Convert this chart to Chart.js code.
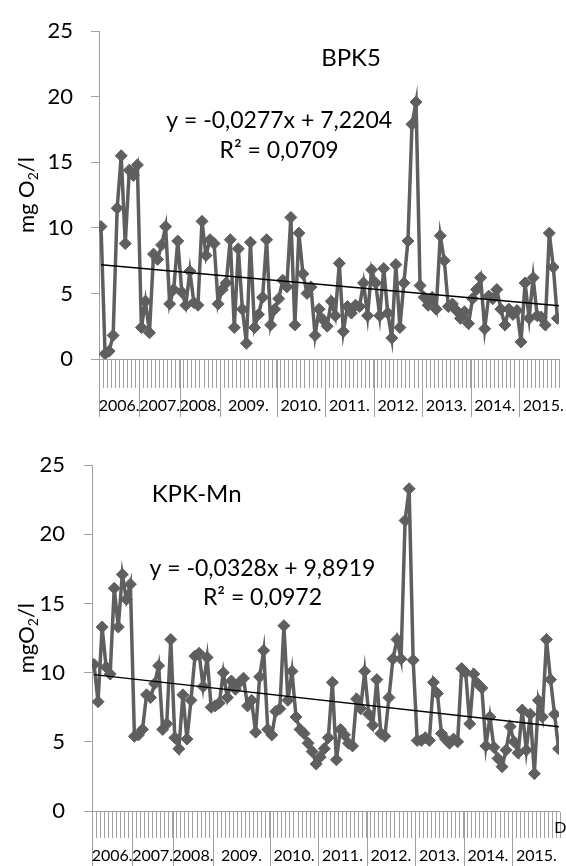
<!DOCTYPE html>
<html lang="en">
<head>
<meta charset="utf-8">
<style>
    html, body { margin: 0; padding: 0; background: #fff; overflow: hidden; }
    .box { position: absolute; left: 0; width: 566px; height: 433px; }
</style>
</head>
<body>
    <!-- Two stacked charts -->
    <div class="box" style="top: 0;"><canvas id="chartBpk" width="566" height="433"></canvas></div>
    <div class="box" style="top: 433px;"><canvas id="chartKpk" width="566" height="433"></canvas></div>

    <script src="https://cdn.jsdelivr.net/npm/chart.js@4"></script>
    <script>
        // Year groups on the x axis (number of samples per year)
        const years = ['2006.', '2007.', '2008.', '2009.', '2010.', '2011.', '2012.', '2013.', '2014.', '2015.'];
        const yearCounts = [10, 10, 10, 14, 12, 12, 12, 12, 12, 12];

        // BPK5 values (mg O2/l)
        const bpk5 = [
            10.1, 0.4, 0.6, 1.8, 11.5, 15.5, 8.8, 14.4, 14.0, 14.8,
            2.4, 4.4, 2.0, 8.0, 7.6, 8.7, 10.1, 4.2, 5.3, 9.0,
            5.1, 4.1, 6.7, 4.3, 4.1, 10.5, 7.9, 9.1, 8.8, 4.2,
            5.3, 5.8, 9.1, 2.4, 8.4, 3.8, 1.2, 8.9, 2.4, 3.4, 4.7, 9.1, 2.6, 3.8,
            4.6, 6.0, 5.5, 10.8, 2.6, 9.6, 6.5, 5.0, 5.5, 1.8, 3.8, 3.0,
            2.5, 4.4, 3.3, 7.3, 2.1, 4.0, 3.5, 4.1, 4.0, 5.8, 3.3, 6.8,
            5.8, 3.3, 6.9, 3.5, 1.6, 7.2, 2.4, 5.8, 9.0, 17.9, 19.6, 5.6,
            4.7, 4.1, 4.7, 3.8, 9.4, 7.5, 4.0, 4.2, 3.7, 3.1, 3.6, 2.7,
            4.6, 5.3, 6.2, 2.3, 4.8, 4.6, 5.3, 3.8, 2.6, 3.8, 3.4, 3.7,
            1.3, 5.8, 3.1, 6.2, 3.3, 3.2, 2.6, 9.6, 7.0, 3.1
        ];

        // KPK-Mn values (mg O2/l)
        const kpkMn = [
            10.6, 7.9, 13.3, 10.4, 9.9, 16.1, 13.3, 17.1, 15.3, 16.4,
            5.4, 5.5, 5.9, 8.4, 8.2, 9.2, 10.5, 5.9, 6.3, 12.4,
            5.3, 4.5, 8.4, 5.2, 8.0, 11.2, 11.4, 9.0, 11.1, 7.5,
            7.6, 7.8, 10.0, 8.2, 9.4, 8.8, 9.3, 9.6, 7.6, 8.0, 5.7, 9.7, 11.6, 5.9,
            5.5, 7.2, 7.4, 13.4, 8.0, 10.1, 6.8, 5.9, 5.6, 4.9, 4.3, 3.4,
            3.9, 4.5, 5.3, 9.3, 3.7, 5.9, 5.5, 4.9, 4.7, 8.1, 7.4, 10.1,
            7.0, 6.2, 9.5, 5.6, 5.4, 8.2, 11.0, 12.4, 11.0, 21.0, 23.3, 10.9,
            5.1, 5.1, 5.3, 5.1, 9.3, 8.5, 5.6, 5.2, 4.9, 5.2, 5.0, 10.3,
            10.0, 6.3, 9.9, 9.2, 8.9, 4.7, 6.8, 4.6, 3.8, 3.2, 4.4, 6.1,
            5.0, 4.2, 7.3, 4.4, 7.0, 2.7, 8.0, 6.8, 12.4, 9.5, 7.0, 4.5
        ];

        // Linear trend (slope, intercept) as printed on the chart
        const bpk5Trend = [-0.0277, 7.2204];
        const kpkTrend = [-0.0328, 9.8919];

        const yTicks = [0, 5, 10, 15, 20, 25];

        const axisGray = '#a0a0a0';
        const lineGray = '#5f5f5f';
        const fontName = 'Lato';

        Chart.defaults.font.family = fontName;
        Chart.defaults.color = '#000';

        // Draws year separators + labels, text notes and the y axis title
        const extrasPlugin = {
            id: 'extras',
            afterDraw(chart, args, opts) {
                const ctx = chart.ctx;
                const xs = chart.scales.x;
                const ys = chart.scales.y;
                const area = chart.chartArea;
                ctx.save();

                // year separators and labels
                ctx.strokeStyle = axisGray;
                ctx.lineWidth = 1;
                ctx.fillStyle = '#000';
                ctx.textAlign = 'center';
                ctx.textBaseline = 'middle';
                ctx.font = '16px ' + fontName;
                let start = 0;
                years.forEach((yr, k) => {
                    const cnt = yearCounts[k];
                    const px = Math.round(xs.getPixelForValue(start + 0.5)) + 0.5;
                    ctx.beginPath();
                    ctx.moveTo(px, area.bottom);
                    ctx.lineTo(px, area.bottom + opts.sepLen);
                    ctx.stroke();
                    ctx.fillText(yr, xs.getPixelForValue(start + cnt / 2 + 0.5), area.bottom + opts.labelOffset);
                    start += cnt;
                });

                // text notes (title, equation, R2)
                opts.notes.forEach(n => {
                    ctx.font = n.size + 'px ' + fontName;
                    ctx.textAlign = n.align || 'center';
                    ctx.fillText(n.text, xs.getPixelForValue(n.x), ys.getPixelForValue(n.y));
                });

                // rotated y axis title with subscript 2
                const parts = opts.yTitle;
                let total = 0;
                parts.forEach(p => {
                    ctx.font = p.size + 'px ' + fontName;
                    p.w = ctx.measureText(p.text).width;
                    total += p.w;
                });
                ctx.translate(opts.yTitleX, (area.top + area.bottom) / 2);
                ctx.rotate(-Math.PI / 2);
                ctx.textAlign = 'left';
                let pos = -total / 2;
                parts.forEach(p => {
                    ctx.font = p.size + 'px ' + fontName;
                    ctx.fillText(p.text, pos, p.dy || 0);
                    pos += p.w;
                });

                ctx.restore();
            }
        };

        function makeChart(canvasId, values, trend, cfg) {
            const points = values.map((v, i) => ({ x: i + 1, y: v }));
            const trendPts = [1, cfg.xMax].map(x => ({ x: x, y: trend[0] * x + trend[1] }));

            // tick marks sit between the samples
            const boundaries = [];
            for (let i = 0; i <= values.length; i++) boundaries.push(i + 0.5);

            return new Chart(document.getElementById(canvasId), {
                type: 'line',
                data: {
                    datasets: [{
                        data: trendPts,
                        borderColor: '#000',
                        borderWidth: 1.5,
                        pointRadius: 0,
                        order: 0
                    }, {
                        data: points,
                        borderColor: lineGray,
                        borderWidth: 3.5,
                        pointStyle: 'rectRot',
                        pointRadius: 6,
                        pointBackgroundColor: lineGray,
                        pointBorderColor: lineGray,
                        pointBorderWidth: 1,
                        tension: 0,
                        order: 1
                    }]
                },
                options: {
                    responsive: false,
                    animation: false,
                    layout: { padding: { top: cfg.top, right: 0, bottom: 0, left: 0 } },
                    plugins: {
                        legend: { display: false },
                        tooltip: { enabled: false },
                        extras: cfg.extras
                    },
                    scales: {
                        x: {
                            type: 'linear',
                            min: 0.5,
                            max: cfg.xMax,
                            afterBuildTicks: function (scale) {
                                scale.ticks = boundaries.map(v => ({ value: v }));
                            },
                            ticks: { display: false },
                            grid: { drawOnChartArea: false, drawTicks: true, tickLength: cfg.tickLen, color: axisGray },
                            border: { color: axisGray },
                            afterFit: function (scale) { scale.height = cfg.xHeight; }
                        },
                        y: {
                            min: 0,
                            max: 25,
                            afterBuildTicks: function (scale) {
                                scale.ticks = yTicks.map(v => ({ value: v }));
                            },
                            ticks: { padding: cfg.yPad, font: { size: 22 }, color: '#000' },
                            grid: { drawOnChartArea: false, tickLength: 8, color: axisGray },
                            border: { color: axisGray },
                            afterFit: function (scale) { scale.width = cfg.yWidth; }
                        }
                    }
                },
                plugins: [extrasPlugin]
            });
        }

        makeChart('chartBpk', bpk5, bpk5Trend, {
            top: 19, xHeight: 74, yWidth: 99, yPad: 18, tickLen: 29, xMax: 114.4,
            extras: {
                sepLen: 58, labelOffset: 47, yTitleX: 27,
                yTitle: [{ text: 'mg O', size: 22 }, { text: '2', size: 14, dy: 6 }, { text: '/l', size: 22 }],
                notes: [
                    { text: 'BPK5', x: 62.9, y: 22.9, size: 24 },
                    { text: 'y = -0,0277x + 7,2204', x: 45.1, y: 18.2, size: 23 },
                    { text: 'R² = 0,0709', x: 45.1, y: 15.9, size: 23 }
                ]
            }
        });

        makeChart('chartKpk', kpkMn, kpkTrend, {
            top: 30, xHeight: 55, yWidth: 92, yPad: 19, tickLen: 27, xMax: 116.1,
            extras: {
                sepLen: 56, labelOffset: 45, yTitleX: 27,
                yTitle: [{ text: 'mgO', size: 22 }, { text: '2', size: 14, dy: 6 }, { text: '/l', size: 22 }],
                notes: [
                    { text: 'KPK-Mn', x: 26.4, y: 22.9, size: 24 },
                    { text: 'y = -0,0328x + 9,8919', x: 42.7, y: 17.5, size: 23 },
                    { text: 'R² = 0,0972', x: 42.7, y: 15.4, size: 23 },
                    { text: 'D', x: 114.9, y: -1.2, size: 16, align: 'left' }
                ]
            }
        });
    </script>
</body>
</html>
